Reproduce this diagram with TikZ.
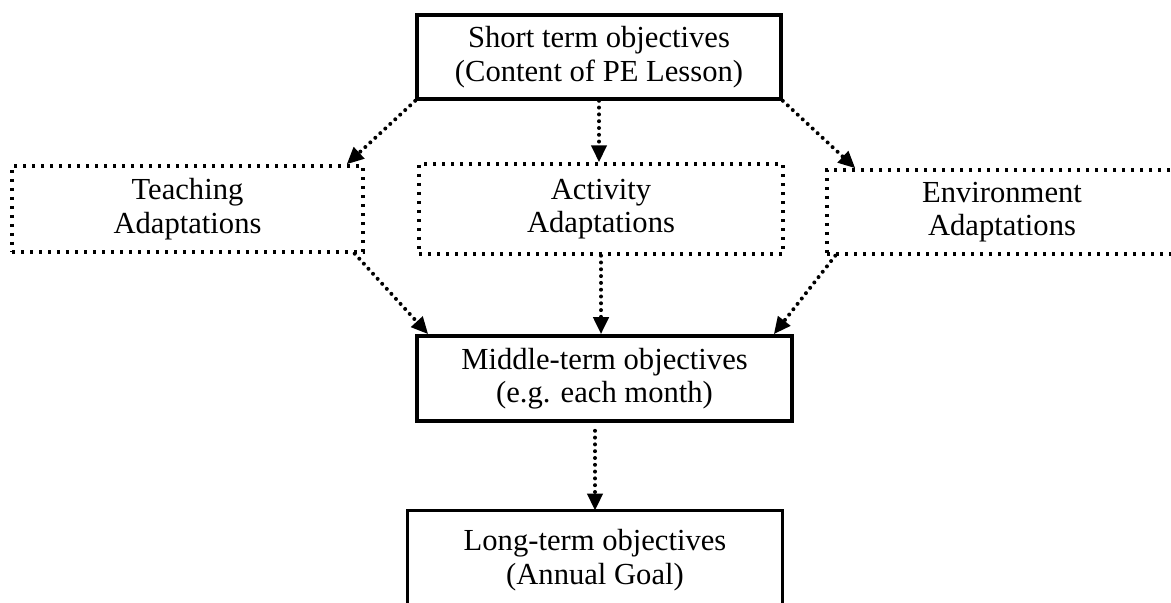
\documentclass[tikz,border=0pt]{standalone}
\usepackage{fontspec}
\setmainfont{Liberation Serif}
\usetikzlibrary{positioning,
        shapes,
        arrows.meta}

\begin{document}
\begin{tikzpicture}[x=0.5pt,y=-0.5pt,
        solidbox/.style={draw,line width=1.8pt,align=center,inner sep=0pt,
                font=\fontsize{15.3pt}{16.8pt}\selectfont},
        textbox/.style={align=center,inner sep=0pt,
                font=\fontsize{15.3pt}{16.8pt}\selectfont},
        dotbox/.style={draw,line width=1.7pt,dash pattern=on 1.7pt off 2.8pt,
                align=center,inner sep=0pt,font=\fontsize{15.3pt}{16.8pt}\selectfont},
        conn/.style={line width=2pt,line cap=round,dash pattern=on 0pt off 3.4pt,
                -{Triangle[length=8.5pt,width=7.5pt]}}]
        \useasboundingbox (0,0) rectangle (1171,603);
        \clip (0,0) rectangle (1171,603);
        \node [solidbox,minimum width=182pt,minimum height=42pt] (top) at (599,57) {Short term objectives\\(Content of PE Lesson)};
        \node [dotbox,minimum width=175.5pt,minimum height=43pt] (teach) at (187.5,209) {Teaching\\Adaptations};
        \node [dotbox,minimum width=182pt,minimum height=45pt] (act) at (601,209) {Activity\\Adaptations};
        \node [dotbox,minimum width=175pt,minimum height=42pt] (env) at (1002,212) {Environment\\Adaptations};
        \node [solidbox,minimum width=187.5pt,minimum height=42.5pt] (mid) at (604.5,378.5) {Middle-term objectives\\(e.g. each month)};
        \node [textbox,minimum width=187pt,minimum height=49pt] (long) at (595,560) {Long-term objectives\\(Annual Goal)};
        \draw [line width=1.8pt] ([yshift=-20pt]long.south west) -- (long.north west) -- (long.north east) -- ([yshift=-20pt]long.south east);

        \draw [conn] (top.south west) -- ([xshift=-9pt]teach.north east);
        \draw [conn] (top.south) -- (top.south |- act.north);
        \draw [conn] (top.south east) -- ([xshift=15pt]env.north west);
        \draw [conn] ([xshift=-5pt]teach.south east) -- ([xshift=6.5pt]mid.north west);
        \draw [conn] (act.south) -- (act.south |- mid.north);
        \draw [conn] ([xshift=5pt]env.south west) -- ([xshift=-10pt]mid.north east);
        \draw [conn] ([yshift=-4pt]long.north |- mid.south) -- (long.north);
    \end{tikzpicture}
\end{document}
